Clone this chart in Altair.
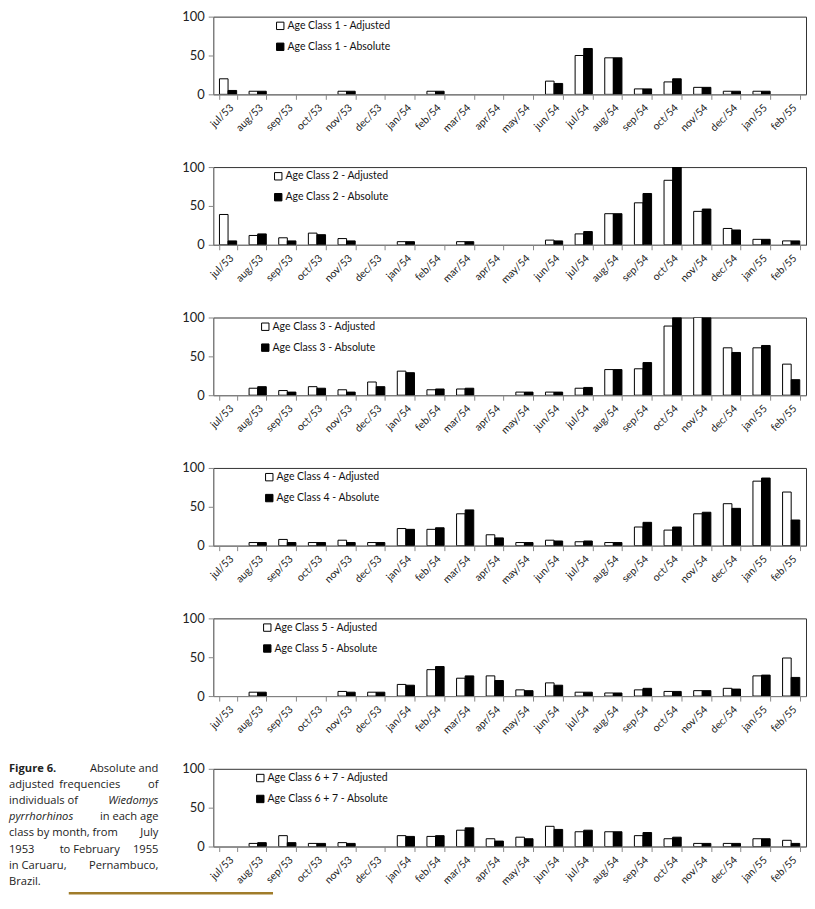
import altair as alt
import pandas as pd

months = ["jul/53", "aug/53", "sep/53", "oct/53", "nov/53", "dec/53", "jan/54", "feb/54",
          "mar/54", "apr/54", "may/54", "jun/54", "jul/54", "aug/54", "sep/54", "oct/54",
          "nov/54", "dec/54", "jan/55", "feb/55"]

class_names = ["1", "2", "3", "4", "5", "6 + 7"]
series_names = ["Adjusted", "Absolute"]

adj1 = [20, 4, 0, 0, 4, 0, 0, 4, 0, 0, 0, 17, 50, 47, 7, 16, 9, 4, 4, 0]
abs1 = [5, 4, 0, 0, 4, 0, 0, 4, 0, 0, 0, 14, 59, 47, 7, 20, 9, 4, 4, 0]
adj2 = [39, 12, 9, 15, 8, 0, 4, 0, 4, 0, 0, 6, 14, 40, 54, 83, 43, 21, 7, 5]
abs2 = [5, 14, 5, 13, 5, 0, 4, 0, 4, 0, 0, 5, 17, 40, 66, 100, 46, 19, 7, 5]
adj3 = [0, 9, 6, 11, 7, 17, 31, 7, 8, 0, 4, 4, 9, 33, 34, 89, 100, 61, 61, 40]
abs3 = [0, 11, 4, 9, 4, 11, 29, 8, 9, 0, 4, 4, 10, 33, 42, 100, 100, 55, 64, 20]
adj4 = [0, 4, 8, 4, 7, 4, 22, 21, 41, 14, 4, 7, 5, 4, 24, 20, 41, 54, 83, 69]
abs4 = [0, 4, 4, 4, 4, 4, 21, 23, 46, 10, 4, 6, 6, 4, 30, 24, 43, 48, 87, 33]
adj5 = [0, 5, 0, 0, 6, 5, 15, 34, 23, 26, 8, 17, 5, 4, 8, 6, 7, 10, 26, 49]
abs5 = [0, 5, 0, 0, 5, 5, 14, 38, 26, 20, 7, 14, 5, 4, 10, 6, 7, 9, 27, 24]
adj6 = [0, 4, 14, 4, 5, 0, 14, 13, 21, 10, 12, 26, 19, 19, 14, 10, 4, 4, 10, 8]
abs6 = [0, 5, 5, 4, 4, 0, 13, 14, 24, 7, 10, 22, 21, 19, 18, 12, 4, 4, 10, 4]

adjusted = [adj1, adj2, adj3, adj4, adj5, adj6]
absolute = [abs1, abs2, abs3, abs4, abs5, abs6]

# legend horizontal offset inside each panel (px from plot left)
legend_x = [62, 60, 47, 51, 49, 42]

# caption pieces
cap_text = ["Figure 6.", "Absolute and",
            "adjusted", "frequencies", "of",
            "individuals of", "Wiedomys",
            "pyrrhorhinos", "in each age",
            "class by month, from", "July",
            "1953", "to February", "1955",
            "in Caruaru,", "Pernambuco,",
            "Brazil."]
cap_line = [0, 0, 1, 1, 1, 2, 2, 3, 3, 4, 4, 5, 5, 5, 6, 6, 7]
cap_pos = ["l", "r", "l", "c", "r", "l", "r", "l", "r", "l", "r", "l", "c", "r", "l", "r", "l"]
cap_style = ["bold", "normal", "normal", "normal", "normal", "normal", "italic", "italic",
             "normal", "normal", "normal", "normal", "normal", "normal", "normal", "normal",
             "normal"]

FONT = "Lato"
W = 595
H = 78


def bar_panel(i):
    rows = []
    for m, a, b in zip(months, adjusted[i], absolute[i]):
        rows.append({"month": m, "series": "Adjusted", "value": a})
        rows.append({"month": m, "series": "Absolute", "value": b})
    df = pd.DataFrame(rows)
    label = "Age Class " + class_names[i] + " - "
    return alt.Chart(df).transform_filter("datum.value > 0").mark_bar(
        stroke="black", strokeWidth=1, clip=True
    ).encode(
        x=alt.X("month:N", sort=months,
                scale=alt.Scale(domain=months, paddingInner=0.42, paddingOuter=0.21),
                axis=alt.Axis(title=None, labelAngle=-45, tickBand="extent", tickSize=5,
                              labelFont=FONT, labelFontSize=10.5, labelColor="#222",
                              domainColor="#888", tickColor="#888", labelPadding=3)),
        xOffset=alt.XOffset("series:N", sort=series_names,
                            scale=alt.Scale(domain=series_names, paddingInner=0, paddingOuter=0)),
        y=alt.Y("value:Q", scale=alt.Scale(domain=[0, 100]),
                axis=alt.Axis(title=None, values=[0, 50, 100], grid=False, tickSize=5,
                              labelFont=FONT, labelFontSize=13, labelColor="#222",
                              domainColor="#888", tickColor="#888", labelPadding=4)),
        color=alt.Color("series:N", sort=series_names,
                        scale=alt.Scale(domain=series_names, range=["white", "black"]),
                        legend=alt.Legend(title=None, orient="none",
                                          legendX=legend_x[i], legendY=4,
                                          symbolType="square", symbolSize=55,
                                          symbolStrokeColor="black", symbolStrokeWidth=1,
                                          labelFont=FONT, labelFontSize=10.5,
                                          labelColor="#111", labelOffset=2,
                                          rowPadding=9,
                                          labelExpr="'" + label + "' + datum.label")),
    ).properties(width=W, height=H)


panels = [bar_panel(i) for i in range(5)]

# last panel with caption and rule
cap_df = pd.DataFrame({"text": cap_text, "line": cap_line, "pos": cap_pos, "style": cap_style})
pos_x = {"l": -205, "r": -55, "c": -124}
pos_align = {"l": "left", "r": "right", "c": "center"}

cap_layers = []
for p in ["l", "r", "c"]:
    for s in ["normal", "bold", "italic"]:
        sub = cap_df[(cap_df["pos"] == p) & (cap_df["style"] == s)]
        if len(sub) == 0:
            continue
        cap_layers.append(
            alt.Chart(sub).mark_text(
                align=pos_align[p], baseline="middle", font="Open Sans", fontSize=11.2,
                color="#222",
                fontWeight="bold" if s == "bold" else "normal",
                fontStyle="italic" if s == "italic" else "normal",
            ).encode(
                x=alt.value(pos_x[p]),
                y=alt.Y("line:Q", scale=alt.Scale(domain=[0, 7], range=[0, 113.5]), axis=None),
                text="text:N",
            )
        )

rule = alt.Chart(pd.DataFrame({"a": [0]})).mark_rule(color="#a07c2a", strokeWidth=2.5).encode(
    x=alt.value(-145), x2=alt.value(60), y=alt.value(125)
)

last = alt.layer(bar_panel(5), *cap_layers, rule).resolve_scale(y="independent")
panels.append(last)

chart = alt.vconcat(*panels, spacing=73, bounds="flush").resolve_scale(
    color="independent"
).properties(padding=0).configure_view(stroke="#333", strokeWidth=1)

chart.save("out.html", embed_options={"renderer": "svg", "actions": False})
